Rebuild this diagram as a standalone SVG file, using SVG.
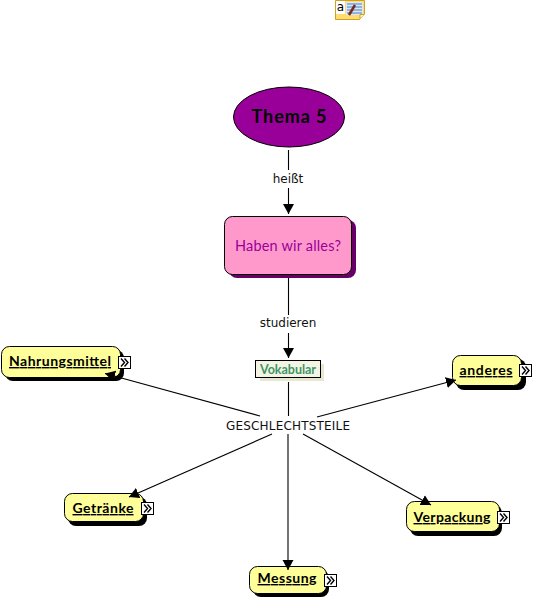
<svg xmlns="http://www.w3.org/2000/svg" width="534" height="600" viewBox="0 0 534 600">
<style>
.conn{stroke:#000;stroke-width:1.100;fill:none}
.lbl{font-family:"DejaVu Sans",sans-serif;font-size:12px;fill:#111;text-anchor:middle}
.concept{fill:#ffff99;stroke:#000;stroke-width:1}
.shadow{fill:#000}
.ntxt{font-family:"Lato","Open Sans",sans-serif;font-weight:700;font-size:14px;fill:#000;text-anchor:middle;text-decoration:underline}
.ibox{fill:#fff;stroke:#000;stroke-width:1}
.ichev{fill:none;stroke:#000;stroke-width:1.400}
</style>
<defs>
<marker id="ah" markerUnits="userSpaceOnUse" markerWidth="12" markerHeight="12" refX="10" refY="6" orient="auto"><path d="M0,0.500L10,6L0,11.500Z" fill="#000"/></marker>
<g id="go"><rect class="ibox" x="0.500" y="0.500" width="12" height="12"/><path class="ichev" d="M3,2.500L6.500,6.500L3,10.500M6.500,2.500L10,6.500L6.500,10.500"/></g>
</defs>
<g id="note-icon">
<path d="M335.500,0.500H364.500V14L359.500,19.500H335.500Z" fill="#ffdc6e" stroke="#c9a227"/>
<rect x="336" y="1" width="9" height="13" fill="#fff"/>
<text x="340.500" y="11" font-family="DejaVu Sans,sans-serif" font-size="12" fill="#000" text-anchor="middle">a</text>
<rect x="346" y="2" width="17" height="13" fill="#d8e8f8"/>
<path d="M347,4H362M347,7H362M347,10H362M347,13H362" stroke="#4f7fc0" fill="none"/>
<path d="M349,15L355,5" stroke="#7a2b1f" stroke-width="2.500" fill="none"/>
<path d="M360,19L360,14.500H364" fill="#fff6c8" stroke="#c9a227"/>
</g>
<g id="thema5">
<ellipse cx="289" cy="117" rx="55.500" ry="30" fill="#990099" stroke="#000"/>
<text x="289" y="123" font-family="Lato,sans-serif" font-weight="700" font-size="18" fill="#000" text-anchor="middle" textLength="75">Thema 5</text>
</g>
<g id="haben">
<rect x="229" y="220" width="127" height="58" rx="8" fill="#660066"/>
<rect x="224.500" y="216.500" width="127" height="58" rx="8" fill="#ff99cc" stroke="#000"/>
<text x="288" y="251" font-family="Lato,sans-serif" font-size="14.500" fill="#990099" text-anchor="middle" textLength="106">Haben wir alles?</text>
</g>
<g id="vokabular">
<rect x="260" y="364" width="64" height="17" fill="#e8e8d0"/>
<rect x="255.500" y="360.500" width="65" height="17" fill="#f4f4e4" stroke="#000"/>
<text x="288" y="374" font-family="Lato,sans-serif" font-weight="700" font-size="12.500" fill="#3f9468" text-anchor="middle" textLength="56">Vokabular</text>
</g>
<g id="nahrungsmittel">
<rect class="shadow" x="5" y="350" width="119" height="31" rx="8"/>
<rect class="concept" x="1.500" y="346.500" width="119" height="31" rx="8"/>
<text class="ntxt" x="60" y="366" textLength="102">Nahrungsmittel</text>
<use href="#go" x="118" y="356"/>
</g>
<g id="anderes">
<rect class="shadow" x="456" y="359" width="70" height="31" rx="8"/>
<rect class="concept" x="452.500" y="355.500" width="69" height="30" rx="8"/>
<text class="ntxt" x="486" y="375" textLength="53">anderes</text>
<use href="#go" x="519" y="364"/>
</g>
<g id="getraenke">
<rect class="shadow" x="68" y="497" width="79" height="29" rx="8"/>
<rect class="concept" x="64.500" y="493.500" width="79" height="28" rx="8"/>
<text class="ntxt" x="103" y="513" textLength="61">Getränke</text>
<use href="#go" x="141" y="502"/>
</g>
<g id="verpackung">
<rect class="shadow" x="410" y="505" width="92" height="31" rx="8"/>
<rect class="concept" x="406.500" y="501.500" width="93" height="30" rx="8"/>
<text class="ntxt" x="452" y="522" textLength="77">Verpackung</text>
<use href="#go" x="497" y="511"/>
</g>
<g id="messung">
<rect class="shadow" x="253" y="570" width="76" height="27" rx="8"/>
<rect class="concept" x="249.500" y="566.500" width="77" height="27" rx="8"/>
<text class="ntxt" x="287" y="583" textLength="59">Messung</text>
<use href="#go" x="324" y="574"/>
</g>
<g id="connectors">
<path class="conn" d="M288.500,150V170"/>
<path class="conn" d="M288.500,188V214" marker-end="url(#ah)"/>
<path class="conn" d="M288.500,278V315"/>
<path class="conn" d="M288.500,333V358" marker-end="url(#ah)"/>
<path class="conn" d="M288.500,382V416"/>
<path class="conn" d="M260,416L105,373.500" marker-end="url(#ah)"/>
<path class="conn" d="M317,417L456,380" marker-end="url(#ah)"/>
<path class="conn" d="M272,434L129,497" marker-end="url(#ah)"/>
<path class="conn" d="M303,434L431,505" marker-end="url(#ah)"/>
<path class="conn" d="M288,434V570" marker-end="url(#ah)"/>
</g>
<g id="labels">
<text class="lbl" x="288" y="183">heißt</text>
<text class="lbl" x="288" y="327">studieren</text>
<text class="lbl" x="288" y="430" textLength="124">GESCHLECHTSTEILE</text>
</g>
</svg>
